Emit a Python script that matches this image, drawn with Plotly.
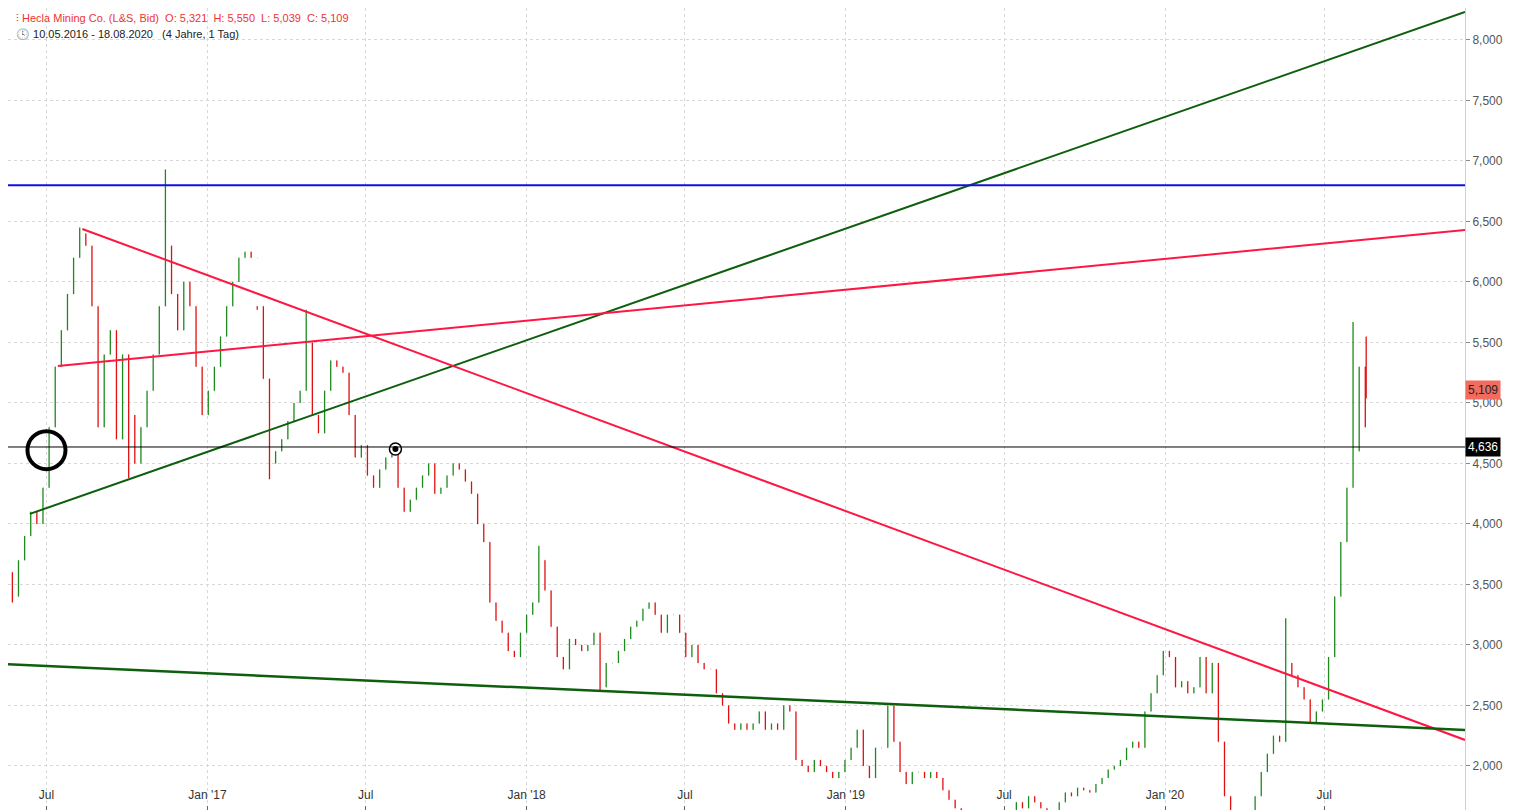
import plotly.graph_objects as go
import pandas as pd

start = pd.Timestamp("2016-05-09")
closes = [
 3.9,3.6,3.4,3.7,3.9,4.1,4.0,4.3,4.8,5.3,
 5.6,5.9,6.2,6.4,6.3,5.8,4.8,5.4,5.6,4.7,
 5.4,4.9,4.5,4.8,5.1,5.4,5.8,6.3,5.9,5.6,
 6.0,5.8,5.3,4.9,5.1,5.3,5.55,5.8,6.0,6.2,
 6.25,6.2,5.8,5.2,4.5,4.6,4.7,4.85,5.0,5.1,
 5.5,4.9,4.75,5.1,5.35,5.3,5.25,4.9,4.55,4.65,
 4.4,4.3,4.45,4.55,4.6,4.3,4.1,4.2,4.3,4.4,
 4.5,4.25,4.3,4.4,4.5,4.45,4.35,4.25,4.0,3.85,
 3.35,3.2,3.1,2.95,2.9,3.1,3.25,3.35,3.7,3.45,
 3.15,2.9,2.8,3.05,3.0,2.95,3.0,3.1,2.65,2.85,
 2.85,2.95,3.05,3.15,3.2,3.3,3.35,3.25,3.1,3.25,
 3.25,3.1,2.9,3.0,2.85,2.8,2.8,2.6,2.5,2.35,
 2.3,2.35,2.3,2.35,2.45,2.3,2.35,2.3,2.5,2.45,
 2.05,2.0,1.95,2.05,2.0,1.95,1.9,1.95,2.05,2.15,
 2.3,2.0,1.9,2.15,2.15,2.5,2.2,1.95,1.85,1.95,
 1.95,1.9,1.95,1.9,1.8,1.72,1.65,1.55,1.5,1.45,
 1.45,1.5,1.55,1.5,1.55,1.6,1.7,1.65,1.75,1.7,
 1.65,1.55,1.6,1.7,1.78,1.75,1.82,1.8,1.78,1.85,
 1.9,1.97,2.0,2.05,2.15,2.2,2.15,2.45,2.6,2.75,
 2.95,2.9,2.65,2.7,2.6,2.65,2.9,2.6,2.85,2.2,
 1.75,1.55,1.45,1.6,1.5,1.75,1.95,2.1,2.25,2.2,
 2.85,2.75,2.65,2.55,2.35,2.45,2.55,2.9,3.4,3.85,
 4.3,4.6,5.3,4.8,5.109,
]
first_open = 3.95
spike_highs = {13: 6.45, 27: 6.93, 42: 5.77, 50: 5.77, 88: 3.82, 210: 3.22, 221: 5.67, 224: 5.55}
spike_lows = {2: 3.35, 21: 4.38, 44: 4.37, 98: 2.62, 224: 5.039}

dates = [start + pd.Timedelta(weeks=i) for i in range(len(closes))]
dates[-1] = pd.Timestamp("2020-08-18")
opens = [first_open] + closes[:-1]
highs = [max(o, c) for o, c in zip(opens, closes)]
lows = [min(o, c) for o, c in zip(opens, closes)]
for k, v in spike_highs.items():
    highs[k] = v
for k, v in spike_lows.items():
    lows[k] = v
opens[-1] = 5.321

green_up_x = ["2016-06-12", "2020-12-09"]; green_up_y = [4.083, 8.231]
red_flat_x = ["2016-07-14", "2020-12-09"]; red_flat_y = [5.306, 6.43]
red_down_x = ["2016-08-11", "2020-12-09"]; red_down_y = [6.438, 2.215]
green_low_x = ["2016-05-09", "2020-12-09"]; green_low_y = [2.843, 2.298]
blue_level = 6.80
black_level = 4.636
last_close = 5.109

tick_dates = ["2016-07-01","2017-01-01","2017-07-01","2018-01-01","2018-07-01",
              "2019-01-01","2019-07-01","2020-01-01","2020-07-01"]
tick_text = ["Jul","Jan '17","Jul","Jan '18","Jul","Jan '19","Jul","Jan '20","Jul"]
y_ticks = [2.0,2.5,3.0,3.5,4.0,4.5,5.0,5.5,6.0,6.5,7.0,7.5,8.0]

fig = go.Figure()
fig.add_trace(go.Ohlc(x=dates, open=opens, high=highs, low=lows, close=closes,
                      increasing_line_color="#1e8a1e", decreasing_line_color="#e01010",
                      line_width=1.3, tickwidth=0.2, showlegend=False, hoverinfo="skip"))
for xs, ys, col, w in [(green_up_x, green_up_y, "#0d5e0d", 2), (red_flat_x, red_flat_y, "#ff1744", 2),
                       (red_down_x, red_down_y, "#ff1744", 2), (green_low_x, green_low_y, "#0d5e0d", 2.5)]:
    fig.add_trace(go.Scatter(x=xs, y=ys, mode="lines", line=dict(color=col, width=w),
                             showlegend=False, hoverinfo="skip"))
fig.add_hline(y=blue_level, line_color="#1010e0", line_width=2)
fig.add_hline(y=black_level, line_color="#000000", line_width=1)
fig.add_trace(go.Scatter(x=["2016-07-01"], y=[4.61], mode="markers",
                         marker=dict(symbol="circle-open", size=38, color="black", line=dict(width=4, color="black")),
                         showlegend=False, hoverinfo="skip"))
fig.add_trace(go.Scatter(x=["2017-08-04"], y=[4.62], mode="markers",
                         marker=dict(symbol="circle", size=12, color="white", line=dict(width=1.5, color="black")),
                         showlegend=False, hoverinfo="skip"))
fig.add_trace(go.Scatter(x=["2017-08-04"], y=[4.62], mode="markers",
                         marker=dict(symbol="circle", size=6, color="black"),
                         showlegend=False, hoverinfo="skip"))

fig.update_layout(
    width=1505, height=802, margin=dict(l=0, r=48, t=0, b=0, autoexpand=False),
    plot_bgcolor="white", paper_bgcolor="white", separators=",.",
    font=dict(family="Liberation Sans, Arial", size=12, color="#444"),
    xaxis=dict(range=["2016-05-18", "2020-12-09"], tickvals=tick_dates, ticktext=tick_text,
               ticklabelposition="inside", ticklabelstandoff=4, showgrid=True, gridcolor="#d8d8d8", griddash="dot",
               rangeslider_visible=False, ticks="inside", ticklen=4, tickcolor="#666",
               tickfont=dict(size=12, color="#333"), zeroline=False),
    yaxis=dict(side="right", range=[1.636, 8.264], tickvals=y_ticks, tickformat=".3f",
               showgrid=True, gridcolor="#d8d8d8", griddash="dot", ticks="outside", ticklen=4,
               tickcolor="#888", tickfont=dict(size=12, color="#555"), showline=True,
               linecolor="#d0d0d0", zeroline=False),
)
fig.add_annotation(xref="paper", yref="paper", x=0.004, y=0.997, xanchor="left", yanchor="top",
                   text="⫶ Hecla Mining Co. (L&S, Bid)&nbsp; O: 5,321&nbsp; H: 5,550&nbsp; L: 5,039&nbsp; C: 5,109",
                   showarrow=False, font=dict(size=11, color="#e33"))
fig.add_annotation(xref="paper", yref="paper", x=0.004, y=0.977, xanchor="left", yanchor="top",
                   text="🕓 10.05.2016 - 18.08.2020&nbsp;&nbsp; (4 Jahre, 1 Tag)",
                   showarrow=False, font=dict(size=11, color="#222"))
fig.add_annotation(xref="paper", yref="y", x=1.0, y=last_close, xanchor="left", text="5,109",
                   showarrow=False, bgcolor="#f36b5f", borderpad=2, font=dict(size=12, color="#222"))
fig.add_annotation(xref="paper", yref="y", x=1.0, y=black_level, xanchor="left", text="4,636",
                   showarrow=False, bgcolor="#000000", borderpad=2, font=dict(size=12, color="white"))
fig.write_html("out.html")
